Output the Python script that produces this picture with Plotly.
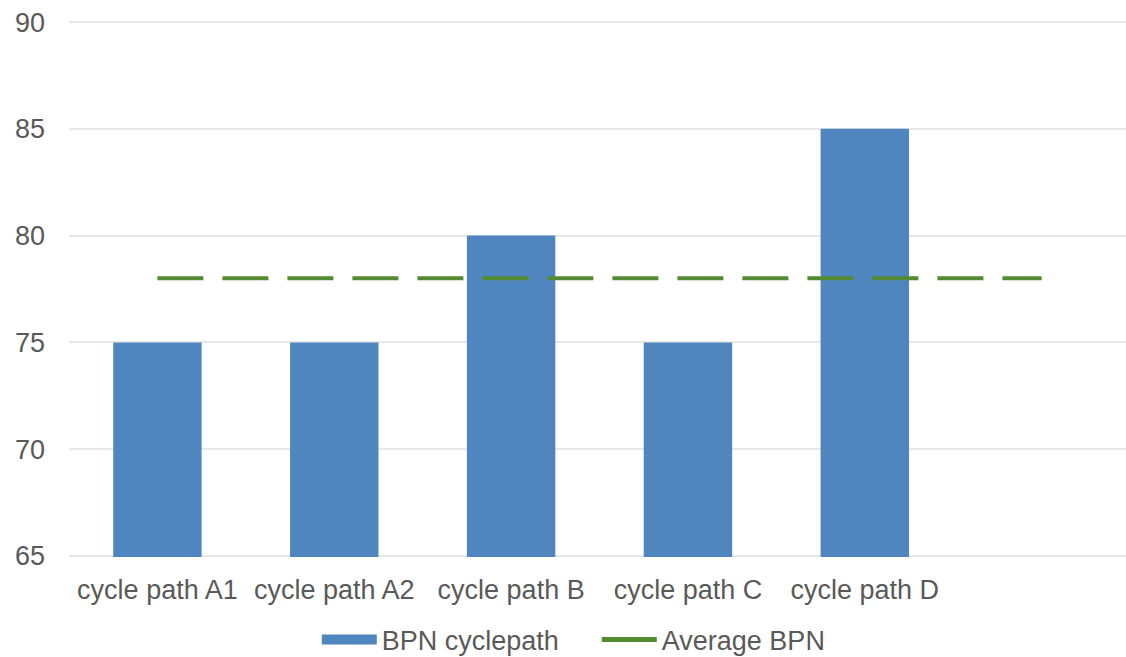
import plotly.graph_objects as go

# Skid resistance (BPN) per cycle path, with the overall average
categories = ["cycle path A1", "cycle path A2", "cycle path B", "cycle path C", "cycle path D"]
bpn_values = [75, 75, 80, 75, 85]
average_bpn = 78
# the average line runs one extra (unlabelled) category to the right
line_categories = categories + [" "]
line_values = [average_bpn] * len(line_categories)

y_ticks = [65, 70, 75, 80, 85, 90]

BAR_COLOR = "#4F86C0"
LINE_COLOR = "#548A32"
TEXT_COLOR = "#595959"
GRID_COLOR = "#E8E8E8"
FONT = "Liberation Sans, Arial, sans-serif"

fig = go.Figure()
fig.add_trace(go.Bar(
    x=categories, y=bpn_values, name="BPN cyclepath",
    marker=dict(color=BAR_COLOR, line=dict(width=0)),
    showlegend=False, legendgroup="bpn",
))
fig.add_trace(go.Scatter(
    x=line_categories, y=line_values, name="Average BPN", mode="lines",
    line=dict(color=LINE_COLOR, width=4, dash="46px,19px"),
    showlegend=False, legendgroup="avg",
))
# legend entries: wide blue band for the bars, short solid green bar for the average
fig.add_trace(go.Scatter(
    x=[None], y=[None], name="BPN cyclepath", mode="lines",
    line=dict(color=BAR_COLOR, width=10), legendgroup="bpn",
))
fig.add_trace(go.Scatter(
    x=[None], y=[None], name="Average BPN", mode="lines",
    line=dict(color=LINE_COLOR, width=5), legendgroup="avg",
))

fig.update_layout(
    width=1126, height=657,
    margin=dict(l=69, r=0, t=21, b=100),
    paper_bgcolor="white", plot_bgcolor="white",
    font=dict(family=FONT, size=27, color=TEXT_COLOR),
    bargap=0.5,
    showlegend=True,
    legend=dict(
        orientation="h", xref="container", yref="container",
        x=0.530, xanchor="center", y=0.0259, yanchor="middle",
        font=dict(size=27, color=TEXT_COLOR), itemwidth=55,
        entrywidth=210, entrywidthmode="pixels",
        traceorder="normal",
    ),
)
fig.update_xaxes(
    type="category", categoryorder="array", categoryarray=line_categories,
    range=[-0.5, 5.477], showgrid=False, showline=False, zeroline=False,
    ticks="", ticklabelstandoff=14, fixedrange=True,
)
fig.update_yaxes(
    range=[64.95, 90.05], tickvals=y_ticks, showgrid=True, gridcolor=GRID_COLOR,
    gridwidth=2, zeroline=False, showline=False, ticks="",
    ticklabelstandoff=23, fixedrange=True,
)

fig.write_html("out.html")
